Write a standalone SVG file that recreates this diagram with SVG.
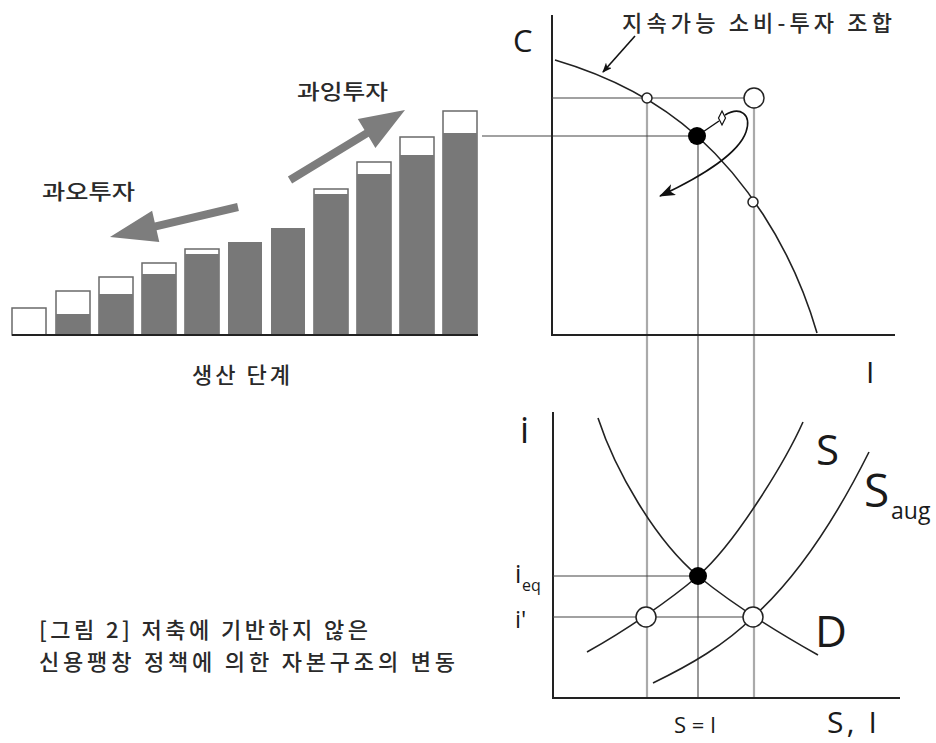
<svg xmlns="http://www.w3.org/2000/svg" width="936" height="743" viewBox="0 0 936 743">
<style>
.kr{font-family:"Noto Sans CJK KR","Noto Sans",sans-serif;fill:#2a2a2a;font-weight:500}
.lat{font-family:"Open Sans","Liberation Sans",sans-serif;fill:#1a1a1a}
.axis{stroke:#222;stroke-width:2;fill:none}
.curve{stroke:#222;stroke-width:1.6;fill:none}
.thin{stroke:#444;stroke-width:1.1;fill:none}
.guide{stroke:#aaa;stroke-width:2.2;fill:none}
.bar-out{fill:#fff;stroke:#6a6a6a;stroke-width:1.5}
.bar-in{fill:#787878}
.open{fill:#fff;stroke:#222;stroke-width:1.5}
.dot{fill:#000}
.bigarrow{fill:#7d7d7d}
</style>
<defs>
<marker id="ah" markerWidth="10" markerHeight="8" refX="9" refY="4" orient="auto" markerUnits="userSpaceOnUse" viewBox="0 0 10 8">
<path d="M0,0 L10,4 L0,8 L2.5,4 Z" fill="#111"/>
</marker>
<marker id="ah2" markerWidth="16" markerHeight="12" refX="15" refY="6" orient="auto" markerUnits="userSpaceOnUse" viewBox="0 0 16 12">
<path d="M0,0 L16,6 L0,12 L4,6 Z" fill="#111"/>
</marker>
</defs>
<rect width="936" height="743" fill="#fff"/>

<g id="connectors">
<line class="guide" x1="647" y1="98" x2="647" y2="698"/>
<line class="guide" x1="754" y1="108" x2="754" y2="698"/>
<line class="thin" x1="698" y1="136" x2="698" y2="698"/>
<line class="thin" x1="482" y1="136" x2="697" y2="136"/>
</g>

<g id="bar-chart">
<rect class="bar-out" x="12" y="308" width="34" height="27"/>
<rect class="bar-out" x="56" y="291" width="34" height="44"/><rect class="bar-in" x="56" y="314" width="34" height="21"/>
<rect class="bar-out" x="99" y="277" width="34" height="58"/><rect class="bar-in" x="99" y="294" width="34" height="41"/>
<rect class="bar-out" x="142" y="263" width="34" height="72"/><rect class="bar-in" x="142" y="274" width="34" height="61"/>
<rect class="bar-out" x="185" y="249" width="34" height="86"/><rect class="bar-in" x="185" y="254" width="34" height="81"/>
<rect class="bar-in" x="228" y="242" width="34" height="93"/>
<rect class="bar-in" x="271" y="228" width="34" height="107"/>
<rect class="bar-out" x="314" y="189" width="34" height="146"/><rect class="bar-in" x="314" y="194" width="34" height="141"/>
<rect class="bar-out" x="357" y="162" width="34" height="173"/><rect class="bar-in" x="357" y="174" width="34" height="161"/>
<rect class="bar-out" x="400" y="137" width="34" height="198"/><rect class="bar-in" x="400" y="155" width="34" height="180"/>
<rect class="bar-out" x="443" y="111" width="34" height="224"/><rect class="bar-in" x="443" y="133" width="34" height="202"/>
<line class="axis" x1="12" y1="335" x2="478" y2="335"/>
<polygon class="bigarrow" points="287.9,176.6 364.5,130 357.8,118.9 405,110 375.4,147.9 368.7,136.8 292.1,183.4"/>
<polygon class="bigarrow" points="237.1,203.1 154.8,222.4 152.1,210.7 110,237 159.3,241.9 156.6,230.2 238.9,210.9"/>
<text class="kr" x="297" y="99" font-size="21" textLength="91" lengthAdjust="spacingAndGlyphs">과잉투자</text>
<text class="kr" x="42" y="199" font-size="21" textLength="93" lengthAdjust="spacingAndGlyphs">과오투자</text>
<text class="kr" x="192" y="383" font-size="22" textLength="98" lengthAdjust="spacing">생산 단계</text>
</g>

<g id="ppf-chart">
<polyline class="axis" points="552,15 552,335 895,335"/>
<text class="lat" x="513" y="52" font-size="31">C</text>
<text class="lat" x="866" y="383" font-size="30">I</text>
<text class="kr" x="622" y="31" font-size="22" textLength="270" lengthAdjust="spacing">지속가능 소비-투자 조합</text>
<line x1="635" y1="36" x2="603" y2="72" stroke="#111" stroke-width="1.6" marker-end="url(#ah)"/>
<path class="curve" d="M555,60 Q640,85 697,136 C740,175 790,240 817,333"/>
<line class="thin" x1="552" y1="98" x2="744" y2="98"/>
<circle class="open" cx="647" cy="98" r="5"/>
<circle class="open" cx="753" cy="202" r="5"/>
<circle class="open" cx="754" cy="98" r="10"/>
<line x1="697" y1="136" x2="719" y2="121" stroke="#111" stroke-width="1.5"/>
<path d="M722,111 L725.5,118 L722,125 L718.5,118 Z" fill="#fff" stroke="#111" stroke-width="1.2"/>
<path d="M725,115 C740,106 752,114 746,132 C739,152 705,175 660,196" fill="none" stroke="#111" stroke-width="1.6" marker-end="url(#ah2)"/>
<circle class="dot" cx="697" cy="136" r="9"/>
</g>

<g id="funds-chart">
<polyline class="axis" points="553,412 553,698 900,698"/>
<line class="thin" x1="553" y1="576" x2="698" y2="576"/>
<line class="thin" x1="553" y1="617" x2="753" y2="617"/>
<path class="curve" d="M587,652 C625,631 670,600 698,576 C735,544 785,462 803,422"/>
<path class="curve" d="M598,418 C615,470 655,540 698,576 C725,598 770,628 818,655"/>
<path class="curve" d="M653,683 C690,665 725,645 753,617 C800,575 840,510 869,452"/>
<circle class="open" cx="646" cy="617" r="10"/>
<circle class="open" cx="753" cy="617" r="10"/>
<circle class="dot" cx="698" cy="576" r="9"/>
<text class="lat" x="520" y="443" font-size="36">i</text>
<text class="lat" x="816" y="465" font-size="42">S</text>
<text class="lat" x="864" y="507" font-size="46">S</text>
<text class="lat" x="891" y="519" font-size="23">aug</text>
<text class="lat" x="815" y="647" font-size="44">D</text>
<text class="lat" x="515" y="583" font-size="25">i</text>
<text class="lat" x="522" y="591" font-size="16">eq</text>
<text class="lat" x="515" y="628" font-size="24">i'</text>
<text class="lat" x="695" y="733" font-size="22" text-anchor="middle">S = I</text>
<text class="lat" x="827" y="733" font-size="30" textLength="50" lengthAdjust="spacing">S, I</text>
</g>

<g id="caption">
<text class="kr" x="39" y="638" font-size="22" textLength="329" lengthAdjust="spacing">[그림 2] 저축에 기반하지 않은</text>
<text class="kr" x="39" y="670" font-size="22" textLength="416" lengthAdjust="spacing">신용팽창 정책에 의한 자본구조의 변동</text>
</g>
</svg>
